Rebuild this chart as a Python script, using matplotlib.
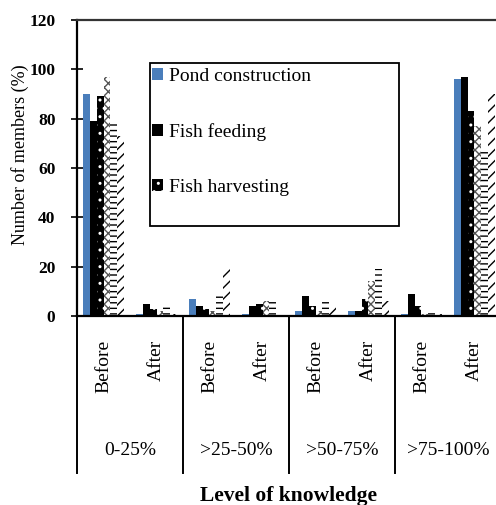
import numpy as np
import matplotlib
matplotlib.use("Agg")
from matplotlib import pyplot as plt
from matplotlib import transforms
from matplotlib.patches import Rectangle

plt.rcParams['font.family'] = 'Liberation Serif'
plt.rcParams['hatch.linewidth'] = 1.0

# Knowledge levels and the before/after split inside each
levels = ['0-25%', '>25-50%', '>50-75%', '>75-100%']
stages = ['Before', 'After']

# Share of members (%) per category: B, A, B, A, ... in level order
pond = [90, 1, 7, 1, 2, 2, 1, 96]
feeding = [79, 5, 4, 4, 8, 2, 9, 97]
harvesting = [89, 3, 3, 5, 4, 7, 4, 83]
practice4 = [97, 2, 2, 6, 2, 14, 1, 77]
practice5 = [79, 5, 9, 6, 6, 19, 2, 67]
practice6 = [73, 1, 19, 1, 4, 6, 1, 90]

series = [pond, feeding, harvesting, practice4, practice5, practice6]
names = ['Pond construction', 'Fish feeding', 'Fish harvesting', '', '', '']
faces = ['#4A7EBB', 'black', 'black', 'white', 'white', 'white']
edges = ['#4A7EBB', 'black', 'white', '#555555', 'black', 'black']
hatches = [None, None, '..', 'xxxx', '---', '///']

fig = plt.figure(figsize=(4.96, 5.05), dpi=100)
ax = fig.add_axes([77 / 496, 189 / 505, 424 / 496, 296 / 505])

x = np.arange(len(levels) * len(stages))
w = 0.132
bars = []
for i, vals in enumerate(series):
    b = ax.bar(x + (i - 2.5) * w, vals, w, color=faces[i], edgecolor=edges[i],
               hatch=hatches[i], linewidth=0, label=names[i])
    bars.append(b)

ax.set_xlim(-0.5, len(x) - 0.5)
ax.set_ylim(0, 120)
ax.set_yticks(range(0, 121, 20))
ax.tick_params(axis='y', direction='inout', length=9, width=1.2, pad=11, labelsize=12.5)
for t in ax.get_yticklabels():
    t.set_fontweight('bold')
ax.set_xticks([])

ax.spines['right'].set_visible(False)
for s in ['left', 'bottom', 'top']:
    ax.spines[s].set_linewidth(1.6)
ax.spines['top'].set_color('#333333')

# Two-level category axis below the bars
trans = transforms.blended_transform_factory(ax.transData, ax.transAxes)
for k in range(len(levels)):
    ax.plot([2 * k - 0.5, 2 * k - 0.5], [0, -0.53], color='black', lw=1.4,
            transform=trans, clip_on=False)
    ax.text(2 * k + 0.5, -0.455, levels[k], transform=trans, ha='center',
            va='center', fontsize=14)
    for j, st in enumerate(stages):
        ax.text(2 * k + j, -0.08, st, transform=trans, ha='center', va='top',
                rotation=90, fontsize=14)

fig.text(288 / 496, 1 - 496 / 505, 'Level of knowledge', ha='center', va='center',
         fontsize=15.5, fontweight='bold')
fig.text(20 / 496, 1 - 155 / 505, 'Number of members (%)', ha='center', va='center',
         rotation=90, fontsize=13)

# Legend box is taller than its three entries
fig.patches.append(Rectangle((150 / 496, 1 - 226 / 505), 249 / 496, 163 / 505,
                             transform=fig.transFigure, fill=False,
                             edgecolor='black', linewidth=1.3))
fig.legend(handles=bars[:3], loc='upper left',
           bbox_to_anchor=(150 / 496, 1 - 66 / 505),
           fontsize=14, frameon=False, borderpad=0.1,
           handlelength=0.55, handleheight=0.55, handletextpad=0.35,
           labelspacing=1.95, borderaxespad=0)

fig.savefig('out.png', dpi=100)
